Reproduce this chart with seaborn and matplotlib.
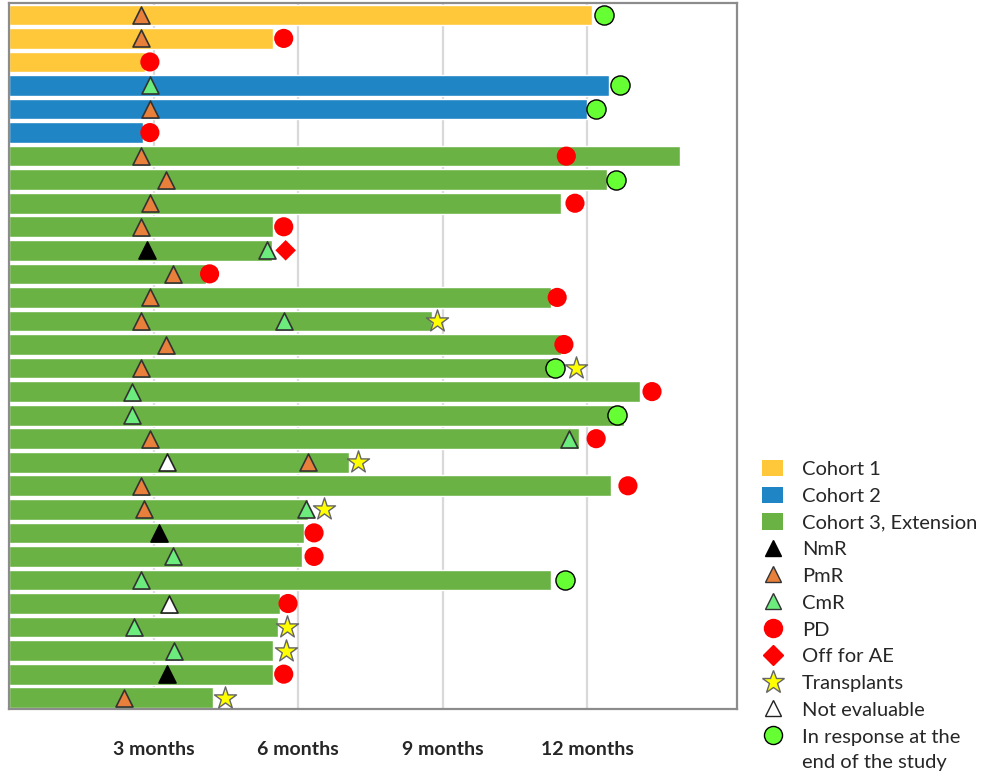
import matplotlib
matplotlib.use("Agg")
import matplotlib.pyplot as plt
from matplotlib.patches import Patch
from matplotlib.lines import Line2D
import seaborn as sns
import pandas as pd

# Swimmer plot: time on study (months) per patient, top to bottom
durations = [12.10, 5.47, 2.81,
             12.46, 12.00, 2.78,
             13.93, 12.42, 11.46, 5.47, 5.45, 4.08, 11.25, 8.78, 11.46, 11.25,
             13.10, 12.76, 11.83, 7.05, 12.49, 6.21, 6.12, 6.08, 11.25, 5.62,
             5.58, 5.48, 5.48, 4.24]
cohorts = (["Cohort 1"] * 3 + ["Cohort 2"] * 3 + ["Cohort 3, Extension"] * 24)

# Events: (patient row, month)
nmr = [(10, 2.86), (22, 3.10), (28, 3.28)]
pmr = [(0, 2.73), (1, 2.73), (4, 2.92), (6, 2.73), (7, 3.25), (8, 2.92),
       (9, 2.73), (11, 3.39), (12, 2.92), (13, 2.73), (14, 3.25), (15, 2.73),
       (18, 2.92), (19, 6.20), (20, 2.73), (21, 2.79), (29, 2.38)]
cmr = [(3, 2.92), (10, 5.35), (13, 5.70), (16, 2.54), (17, 2.54), (18, 11.63),
       (21, 6.16), (23, 3.39), (24, 2.74), (26, 2.60), (27, 3.43)]
pd_events = [(1, 5.70), (2, 2.92), (5, 2.92), (6, 11.57), (8, 11.75), (9, 5.70),
             (11, 4.16), (12, 11.38), (14, 11.52), (16, 13.35), (18, 12.19),
             (20, 12.85), (22, 6.33), (23, 6.33), (25, 5.79), (28, 5.70)]
off_ae = [(10, 5.74)]
transplants = [(13, 8.88), (15, 11.77), (19, 7.24), (21, 6.54), (26, 5.77),
               (27, 5.74), (29, 4.48)]
not_eval = [(19, 3.27), (25, 3.32)]
in_response = [(0, 12.36), (3, 12.69), (4, 12.19), (7, 12.61), (15, 11.33),
               (17, 12.63), (24, 11.54)]

tick_months = [3, 6, 9, 12]
tick_labels = ["3 months", "6 months", "9 months", "12 months"]

cohort_colors = {"Cohort 1": "#FFC83A", "Cohort 2": "#1F85C5",
                 "Cohort 3, Extension": "#6BB245"}

sns.set_style("white")
plt.rcParams["font.family"] = ["Lato", "DejaVu Sans"]

fig = plt.figure(figsize=(9.81, 7.72), dpi=100)
ax = fig.add_axes([0.0095, 0.081, 0.742, 0.915])

patients = [f"P{i + 1:02d}" for i in range(len(durations))]
df = pd.DataFrame({"patient": patients, "months": durations, "cohort": cohorts})
sns.barplot(data=df, x="months", y="patient", hue="cohort", palette=cohort_colors,
            dodge=False, width=0.88, saturation=1, legend=False, ax=ax, zorder=2)


def draw(events, **kw):
    ys = [r for r, _ in events]
    xs = [m for _, m in events]
    ax.scatter(xs, ys, zorder=4, clip_on=False, **kw)


draw(nmr, marker="^", s=150, color="black", edgecolor="black", linewidths=1.2)
draw(pmr, marker="^", s=150, color="#E8803C", edgecolor="#333333", linewidths=1.2)
draw(cmr, marker="^", s=150, color="#6CEC7C", edgecolor="#333333", linewidths=1.2)
draw(not_eval, marker="^", s=150, color="white", edgecolor="#222222", linewidths=1.2)
draw(pd_events, marker="o", s=190, color="#FF0000", edgecolor="none")
draw(off_ae, marker="D", s=110, color="#FF0000", edgecolor="none")
draw(transplants, marker="*", s=280, color="#FFFF00", edgecolor="#666666", linewidths=1.0)
draw(in_response, marker="o", s=190, color="#66FF33", edgecolor="black", linewidths=1.0)

ax.set_xlim(0, 15.12)
ax.set_ylim(len(durations) - 0.5, -0.5)
ax.set_xticks(tick_months)
ax.set_xticklabels(tick_labels, fontsize=14, fontweight="bold")
ax.tick_params(axis="x", length=0, pad=23)
ax.set_yticks([])
ax.set_xlabel("")
ax.set_ylabel("")
ax.grid(axis="x", color="#D9D9D9", linewidth=1.6, zorder=0)
ax.set_axisbelow(True)
for side, sp in ax.spines.items():
    sp.set_visible(True)
    sp.set_color("#8C8C8C")
    sp.set_linewidth(1.6)

handles = [
    Patch(facecolor=cohort_colors["Cohort 1"], edgecolor="none"),
    Patch(facecolor=cohort_colors["Cohort 2"], edgecolor="none"),
    Patch(facecolor=cohort_colors["Cohort 3, Extension"], edgecolor="none"),
    Line2D([], [], ls="none", marker="^", ms=12, mfc="black", mec="black"),
    Line2D([], [], ls="none", marker="^", ms=12, mfc="#E8803C", mec="#333333"),
    Line2D([], [], ls="none", marker="^", ms=12, mfc="#6CEC7C", mec="#333333"),
    Line2D([], [], ls="none", marker="o", ms=13, mfc="#FF0000", mec="#FF0000"),
    Line2D([], [], ls="none", marker="D", ms=10, mfc="#FF0000", mec="#FF0000"),
    Line2D([], [], ls="none", marker="*", ms=17, mfc="#FFFF00", mec="#666666"),
    Line2D([], [], ls="none", marker="^", ms=12, mfc="white", mec="#222222"),
    Line2D([], [], ls="none", marker="o", ms=13, mfc="#66FF33", mec="black"),
]
labels = ["Cohort 1", "Cohort 2", "Cohort 3, Extension", "NmR", "PmR", "CmR",
          "PD", "Off for AE", "Transplants", "Not evaluable",
          "In response at the"]
leg = fig.legend(handles, labels, loc="upper left", bbox_to_anchor=(0.767, 0.4175),
                 frameon=False, fontsize=14.5, handlelength=1.0, handleheight=0.9,
                 handletextpad=0.95, labelspacing=0.42, borderpad=0)

# continuation line of the last legend entry, one row below it
fig.canvas.draw()
last = leg.get_texts()[-1]
bb = last.get_window_extent().transformed(fig.transFigure.inverted())
fig.text(bb.x0, bb.y0 - 25 / 772, "end of the study", fontsize=14.5,
         ha="left", va="bottom")

fig.savefig("out.png", dpi=100)
